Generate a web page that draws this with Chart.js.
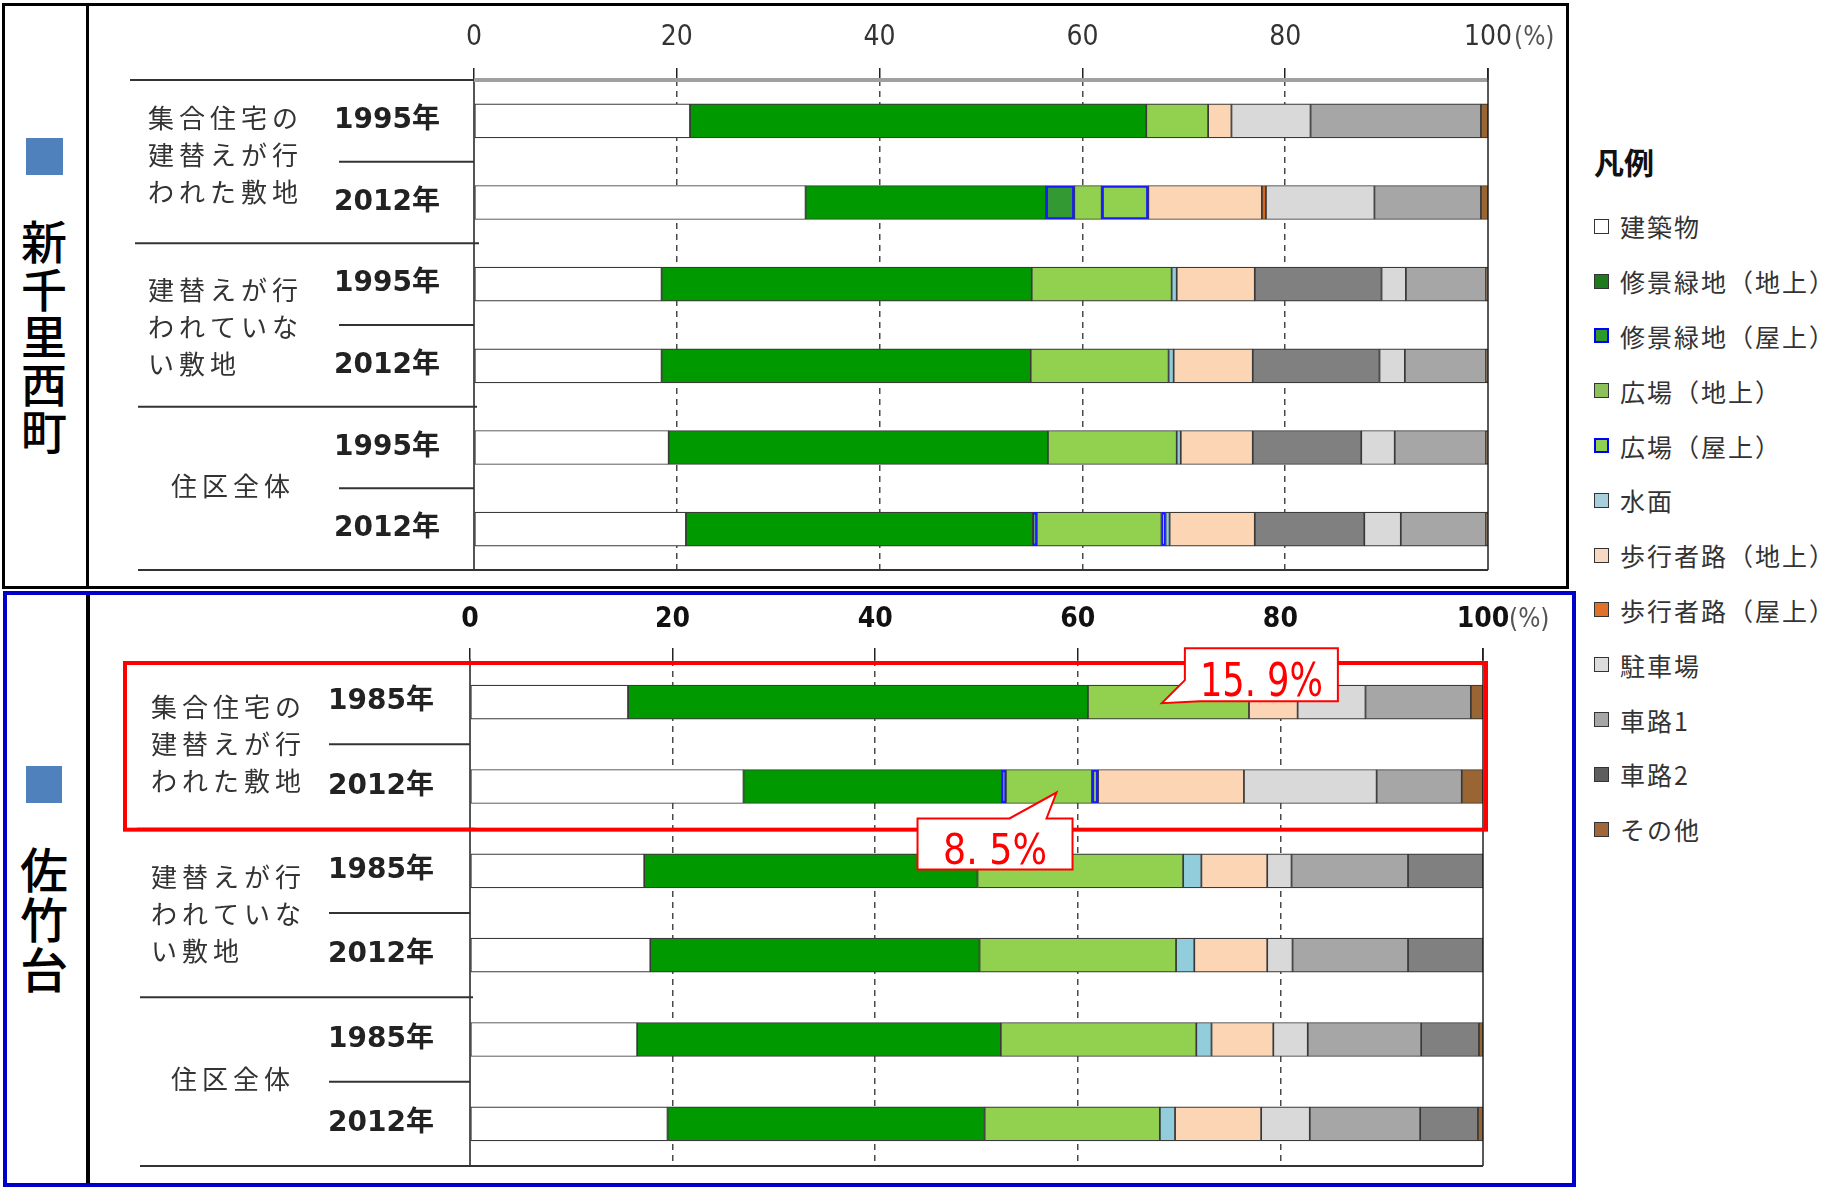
<!DOCTYPE html>
<html><head><meta charset="utf-8">
<script src="https://cdn.jsdelivr.net/npm/chart.js@4"></script>
<style>
html,body{margin:0;padding:0;background:#fff;}
body{width:1845px;height:1189px;overflow:hidden;position:relative;font-family:'Noto Sans CJK JP',sans-serif;}
.abs{position:absolute;box-sizing:border-box;}
#frameTop{left:2px;top:3px;width:1567px;height:586px;border:3px solid #000;}
#divTop{left:86px;top:3px;width:3px;height:586px;background:#000;}
#frameBot{left:3px;top:591px;width:1573px;height:596px;border:4px solid #0000c8;}
#divBot{left:86px;top:595px;width:4px;height:588px;background:#000;}
.sq{background:#4f81bd;}
.vlab{font-weight:500;color:#000;text-align:center;}
#legend{left:1594px;top:140px;}
#legend .title{font-size:30px;font-weight:700;color:#111;height:42px;line-height:42px;margin-bottom:17px;}
#legend .item{height:54.8px;display:flex;align-items:center;font-size:25px;letter-spacing:2px;color:#333;}
#legend .sw{width:15px;height:15px;box-sizing:border-box;border:1.5px solid #333;margin-right:11px;flex:none;}
</style>
</head><body>
<div id="frameTop" class="abs"></div>
<div id="divTop" class="abs"></div>
<div id="frameBot" class="abs"></div>
<div id="divBot" class="abs"></div>
<div class="abs sq" style="left:26px;top:138px;width:37px;height:37px;"></div>
<div class="abs sq" style="left:26px;top:766px;width:36px;height:37px;"></div>
<div class="abs vlab" id="vTop" style="left:18px;top:216px;width:52px;font-size:46px;line-height:47.5px;"></div>
<div class="abs vlab" id="vBot" style="left:18px;top:842px;width:52px;font-size:48px;line-height:50px;"></div>
<canvas id="cTop" class="abs" width="1478" height="580" style="left:90px;top:6px;"></canvas>
<canvas id="cBot" class="abs" width="1478" height="586" style="left:90px;top:596px;"></canvas>
<div id="legend" class="abs"></div>
<script>
// ---- series (legend order) ----
const SERIES = ['建築物','修景緑地（地上）','修景緑地（屋上）','広場（地上）','広場（屋上）','水面','歩行者路（地上）','歩行者路（屋上）','駐車場','車路1','車路2','その他'];
const FILL   = ['#ffffff','#009900','#339933','#92d050','#92d050','#92cddc','#fcd5b4','#d2691e','#d9d9d9','#a6a6a6','#808080','#996633'];
const SWATCH = ['#ffffff','#1f7a1f','#2e9a2e','#8cc05a','#92d050','#a8d0dc','#f7d8c0','#e0702a','#dcdcdc','#a6a6a6','#5e5e5e','#a0673a'];
const ROOF   = [false,false,true,false,true,false,false,false,false,false,false,false];

// ---- 新千里西町 (rows: 集合住宅建替え1995, 2012, 建替えなし1995, 2012, 住区全体1995, 2012) ----
const SN_YEARS    = ['1995年','2012年','1995年','2012年','1995年','2012年'];
const SN_BUILDING = [21.3, 32.7, 18.5, 18.5, 19.2, 20.9];
const SN_GREEN_G  = [45.0, 23.7, 36.5, 36.4, 37.4, 34.2];
const SN_GREEN_R  = [0, 2.8, 0, 0, 0, 0.4];
const SN_PLAZA_G  = [6.1, 2.7, 13.8, 13.6, 12.7, 12.3];
const SN_PLAZA_R  = [0, 4.6, 0, 0, 0, 0.4];
const SN_WATER    = [0, 0, 0.5, 0.5, 0.4, 0.4];
const SN_WALK_G   = [2.3, 11.2, 7.7, 7.8, 7.1, 8.4];
const SN_WALK_R   = [0, 0.4, 0, 0, 0, 0];
const SN_PARKING  = [7.8, 10.7, 2.4, 2.5, 3.3, 3.6];
const SN_ROAD1    = [16.8, 10.5, 7.9, 8.0, 9.0, 8.4];
const SN_ROAD2    = [0, 0, 12.5, 12.5, 10.7, 10.8];
const SN_OTHER    = [0.7, 0.7, 0.2, 0.2, 0.2, 0.2];
const SN_ORDER    = [0,1,2,3,4,5,6,7,10,8,9,11];

// ---- 佐竹台 (rows: 集合住宅建替え1985, 2012, 建替えなし1985, 2012, 住区全体1985, 2012) ----
const SA_YEARS    = ['1985年','2012年','1985年','2012年','1985年','2012年'];
const SA_BUILDING = [15.6, 27.0, 17.2, 17.8, 16.5, 19.5];
const SA_GREEN_G  = [45.4, 25.5, 32.9, 32.5, 35.9, 31.3];
const SA_GREEN_R  = [0, 0.4, 0, 0, 0, 0];
const SA_PLAZA_G  = [15.9, 8.5, 20.3, 19.4, 19.3, 17.3];
const SA_PLAZA_R  = [0, 0.6, 0, 0, 0, 0];
const SA_WATER    = [0, 0, 1.8, 1.8, 1.5, 1.5];
const SA_WALK_G   = [4.8, 14.4, 6.5, 7.2, 6.1, 8.5];
const SA_WALK_R   = [0, 0, 0, 0, 0, 0];
const SA_PARKING  = [6.7, 13.1, 2.4, 2.5, 3.4, 4.8];
const SA_ROAD1    = [10.4, 8.4, 11.5, 11.4, 11.2, 10.9];
const SA_ROAD2    = [0, 0, 7.4, 7.4, 5.7, 5.7];
const SA_OTHER    = [1.2, 2.1, 0, 0, 0.4, 0.5];
const SA_ORDER    = [0,1,2,3,4,5,6,7,8,9,10,11];

const X_TICKS = [0, 20, 40, 60, 80, 100];
const AREA_TOP = ['新','千','里','西','町'];
const AREA_BOT = ['佐','竹','台'];
const GROUPS = [
  {rows:[0,1], lines:['集合住宅の','建替えが行','われた敷地']},
  {rows:[2,3], lines:['建替えが行','われていな','い敷地']},
  {rows:[4,5], lines:['住区全体']}
];
const CALLOUTS = [
  {row:0, value:68.3, text:'15. 9%'},
  {row:1, value:57.9, text:'8. 5%'}
];

const SN_VALUES = [SN_BUILDING,SN_GREEN_G,SN_GREEN_R,SN_PLAZA_G,SN_PLAZA_R,SN_WATER,SN_WALK_G,SN_WALK_R,SN_PARKING,SN_ROAD1,SN_ROAD2,SN_OTHER];
const SA_VALUES = [SA_BUILDING,SA_GREEN_G,SA_GREEN_R,SA_PLAZA_G,SA_PLAZA_R,SA_WATER,SA_WALK_G,SA_WALK_R,SA_PARKING,SA_ROAD1,SA_ROAD2,SA_OTHER];

// ---- HTML side labels & legend ----
document.getElementById('vTop').innerHTML = AREA_TOP.join('<br>');
document.getElementById('vBot').innerHTML = AREA_BOT.join('<br>');
const lg = document.getElementById('legend');
lg.innerHTML = '<div class="title">凡例</div>' + SERIES.map((s,i)=>
  `<div class="item"><span class="sw" style="background:${SWATCH[i]};${ROOF[i]?'border:2px solid #0000ff;':''}"></span>${s}</div>`).join('');

const NARROW = "'DejaVu Sans Condensed','Liberation Sans Narrow','Roboto Condensed','DejaVu Sans',sans-serif";
const CJK = "'Noto Sans CJK JP',sans-serif";

function drawSpaced(ctx, text, x, y, adv){ for (const ch of text){ ctx.fillText(ch, x, y); x += adv; } }

function decorPlugin(cfg){
  return {
    id:'decor'+cfg.name,
    afterDraw(chart){
      const ctx = chart.ctx, xs = chart.scales.x, ys = chart.scales.y, ca = chart.chartArea;
      const b = i => (ys.getPixelForValue(i) + ys.getPixelForValue(i+1))/2;
      const x100 = xs.getPixelForValue(100);
      ctx.save();
      if (cfg.greyTop){
        ctx.strokeStyle = '#a0a0a0'; ctx.lineWidth = 4;
        ctx.beginPath(); ctx.moveTo(xs.getPixelForValue(0), ca.top); ctx.lineTo(x100, ca.top); ctx.stroke();
      }
      ctx.strokeStyle = '#222'; ctx.lineWidth = 1.5;
      ctx.beginPath(); ctx.moveTo(x100, ca.top - 12); ctx.lineTo(x100, ca.bottom); ctx.stroke();
      ctx.strokeStyle = '#333'; ctx.lineWidth = 2;
      const line = (x1,x2,y)=>{ctx.beginPath();ctx.moveTo(x1,y);ctx.lineTo(x2,y);ctx.stroke();};
      if (cfg.topLine) line(cfg.longX, ca.left, ca.top);
      line(cfg.longX + 5, ca.left + 5, b(1));
      line(cfg.longX + 8, ca.left + 3, b(3));
      line(cfg.longX + 8, x100, ca.bottom);
      [0,2,4].forEach(i => line(cfg.shortX, ca.left, b(i)));
      ctx.fillStyle = '#333'; ctx.font = '26px ' + CJK; ctx.textBaseline = 'middle'; ctx.textAlign = 'left';
      GROUPS.forEach((g, gi) => {
        const c = (ys.getPixelForValue(g.rows[0]) + ys.getPixelForValue(g.rows[1]))/2 + cfg.groupDy[gi];
        const n = g.lines.length;
        const x0 = n === 1 ? 81 : cfg.groupX;
        g.lines.forEach((t,k) => drawSpaced(ctx, t, x0, c + (k-(n-1)/2)*37, 31));
      });
      ctx.font = '26px ' + NARROW; ctx.fillStyle = '#555'; ctx.textAlign = 'left';
      ctx.fillText('(%)', x100 + 26, ca.top - cfg.labelOffset);
      if (cfg.callouts){
        ctx.strokeStyle = '#ff0000'; ctx.lineWidth = 4;
        ctx.strokeRect(35, ca.top + 3, x100 + 3 - 35, b(1) + 1 - (ca.top + 3));
        CALLOUTS.forEach((co, idx) => {
          const tx = xs.getPixelForValue(co.value);
          let L, T, W, H, path;
          if (idx === 0){
            const ty = ys.getPixelForValue(co.row) + 1;
            L = tx + 23; T = ty - 55; W = 153; H = 53;
            path = [[L,T],[L+W,T],[L+W,T+H],[L+15,T+H],[tx,ty],[L,T+32]];
          } else {
            const ty = ys.getPixelForValue(co.row) + 6;
            L = tx - 139; T = ty + 26; W = 155; H = 51;
            path = [[L,T],[L+92,T],[tx,ty],[L+129,T],[L+W,T],[L+W,T+H],[L,T+H]];
          }
          ctx.beginPath(); path.forEach((p,i)=> i?ctx.lineTo(p[0],p[1]):ctx.moveTo(p[0],p[1])); ctx.closePath();
          ctx.fillStyle = '#fff'; ctx.fill();
          ctx.strokeStyle = '#ff0000'; ctx.lineWidth = 2; ctx.stroke();
          const fs = idx === 0 ? 47 : 43, tw = idx === 0 ? 123 : 104;
          ctx.font = fs + 'px ' + NARROW; ctx.fillStyle = '#ff0000'; ctx.textBaseline = 'alphabetic'; ctx.textAlign = 'center';
          const m = ctx.measureText(co.text).width;
          ctx.save(); ctx.translate(L + W/2, T + (idx===0?48:45)); ctx.scale(tw/m, 1);
          ctx.fillText(co.text, 0, 0); ctx.restore();
        });
      }
      ctx.restore();
    }
  };
}

function makeChart(id, years, values, order, cfg){
  const datasets = order.map(si => ({
    label: SERIES[si],
    data: values[si],
    backgroundColor: FILL[si],
    borderColor: ROOF[si] ? '#1a1aff' : '#3a3a3a',
    borderWidth: ROOF[si] ? 2.5 : 1.2,
    borderSkipped: false,
    barThickness: 34
  }));
  return new Chart(document.getElementById(id), {
    type: 'bar',
    data: { labels: years, datasets },
    options: {
      indexAxis: 'y', responsive: false, animation: false, maintainAspectRatio: false,
      layout: { padding: { left: 0, top: 0, right: cfg.padRight, bottom: cfg.padBottom } },
      plugins: { legend: { display: false }, tooltip: { enabled: false } },
      scales: {
        x: {
          stacked: true, position: 'top', min: 0, max: 100,
          afterBuildTicks: s => { s.ticks = X_TICKS.map(v => ({value: v})); },
          ticks: { font: { family: NARROW, size: 28, weight: cfg.tickWeight }, color: cfg.tickColor, padding: cfg.tickPad, maxRotation: 0, autoSkip: false },
          grid: {
            color: c => (c.tick && (c.tick.value === 0 || c.tick.value === 100)) ? 'rgba(0,0,0,0)' : '#4a4a4a',
            lineWidth: 1.5, tickColor: '#222', tickWidth: 1.5, tickLength: 12, tickBorderDash: []
          },
          border: { display: false, dash: [6, 5] },
          afterFit: s => { s.height = cfg.axisH; }
        },
        y: {
          stacked: true,
          ticks: { font: { family: "'DejaVu Sans','Noto Sans CJK JP',sans-serif", size: 28, weight: 'bold' }, color: '#222', padding: cfg.yPad },
          grid: { display: false },
          border: { display: true, color: '#555', width: 2 },
          afterFit: s => { s.width = cfg.axisW; s.paddingTop = 0; s.paddingBottom = 0; }
        }
      }
    },
    plugins: [decorPlugin(cfg)]
  });
}

makeChart('cTop', SN_YEARS, SN_VALUES, SN_ORDER, {
  name:'Top', padRight: 80, padBottom: 16, axisH: 74, axisW: 384, tickPad: 13, yPad: 26,
  tickWeight: 'normal', tickColor: '#333', greyTop: true, topLine: true, callouts: false,
  longX: 40, shortX: 249, groupX: 58, labelOffset: 41.5, groupDy: [-7, 2, -2]
});
makeChart('cBot', SA_YEARS, SA_VALUES, SA_ORDER, {
  name:'Bot', padRight: 85, padBottom: 16, axisH: 64, axisW: 380, tickPad: 11, yPad: 28,
  tickWeight: 'bold', tickColor: '#111', greyTop: false, topLine: false, callouts: true,
  longX: 42, shortX: 239, groupX: 61, labelOffset: 39.5, groupDy: [0, 1, -3]
});
</script>
</body></html>
